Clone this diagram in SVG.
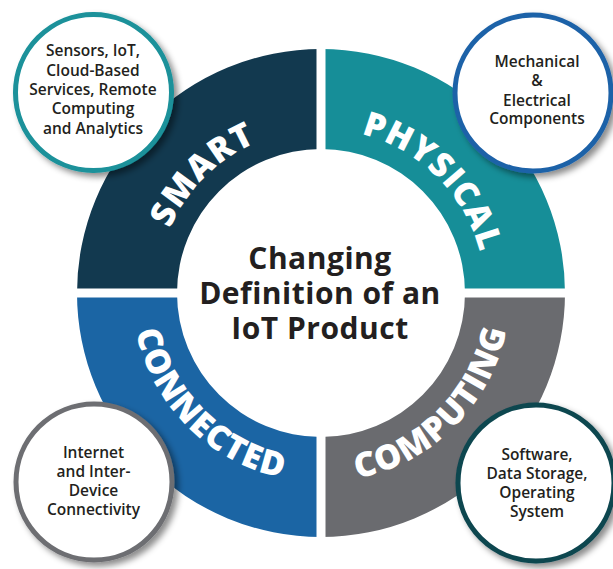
<svg xmlns="http://www.w3.org/2000/svg" width="613" height="569" viewBox="0 0 613 569">
<defs>
<style>
.ring-label{font-family:"Open Sans","Liberation Sans",sans-serif;font-weight:800;font-size:34px;fill:#ffffff;letter-spacing:1px}
.title{font-family:"Open Sans","Liberation Sans",sans-serif;font-weight:700;font-size:30px;fill:#231f20;text-anchor:middle;letter-spacing:0.5px}
.note{font-family:"Open Sans","Liberation Sans",sans-serif;font-weight:600;font-size:15.5px;fill:#231f20;text-anchor:middle}
.bubble{fill:#ffffff;stroke-width:5;filter:url(#shadow)}
</style>
<filter id="shadow" x="-30%" y="-30%" width="160%" height="160%">
<feDropShadow dx="4" dy="4" stdDeviation="3" flood-color="#000000" flood-opacity="0.45"/>
</filter>
<path id="arcTop" d="M157,293 A164,164 0 0 1 485,293"/>
<path id="arcBottom" d="M132,293 A189,189 0 0 0 510,293"/>
</defs>
<rect width="613" height="569" fill="#ffffff"/>
<g id="ring">
<g id="smart">
<path d="M77,293 A244,244 0 0 1 321,49 L321,149 A144,144 0 0 0 177,293 Z" fill="#12394f"/>
</g>
<g id="physical">
<path d="M321,49 A244,244 0 0 1 565,293 L465,293 A144,144 0 0 0 321,149 Z" fill="#168e98"/>
</g>
<g id="computing">
<path d="M565,293 A244,244 0 0 1 321,537 L321,437 A144,144 0 0 0 465,293 Z" fill="#6a6b6f"/>
</g>
<g id="connected">
<path d="M321,537 A244,244 0 0 1 77,293 L177,293 A144,144 0 0 0 321,437 Z" fill="#1b65a4"/>
</g>
<rect x="316.5" y="40" width="9" height="510" fill="#ffffff"/>
<rect x="70" y="288.5" width="502" height="9" fill="#ffffff"/>
<text class="ring-label"><textPath href="#arcTop" startOffset="25%" text-anchor="middle">SMART</textPath></text>
<text class="ring-label"><textPath href="#arcTop" startOffset="75%" text-anchor="middle">PHYSICAL</textPath></text>
<text class="ring-label"><textPath href="#arcBottom" startOffset="25%" text-anchor="middle">CONNECTED</textPath></text>
<text class="ring-label"><textPath href="#arcBottom" startOffset="75%" text-anchor="middle">COMPUTING</textPath></text>
</g>
<g id="center-title">
<text class="title" x="320" y="269">Changing</text>
<text class="title" x="320" y="304">Definition of an</text>
<text class="title" x="320" y="339">IoT Product</text>
</g>
<g id="connectors"></g>
<g id="node-smart">
<circle class="bubble" cx="93.5" cy="92.5" r="78" stroke="#1a919a"/>
<text class="note" x="93" y="56">Sensors, IoT,</text>
<text class="note" x="93" y="75.5">Cloud-Based</text>
<text class="note" x="93" y="95">Services, Remote</text>
<text class="note" x="93" y="114">Computing</text>
<text class="note" x="93" y="133.5">and Analytics</text>
</g>
<g id="node-physical">
<circle class="bubble" cx="533" cy="93" r="78" stroke="#1f62a8"/>
<text class="note" x="537" y="67">Mechanical</text>
<text class="note" x="537" y="86">&amp;</text>
<text class="note" x="537" y="105.5">Electrical</text>
<text class="note" x="537" y="124">Components</text>
</g>
<g id="node-connected">
<circle class="bubble" cx="94" cy="482" r="78" stroke="#6d6e72"/>
<text class="note" x="93.5" y="458">Internet</text>
<text class="note" x="93.5" y="477">and Inter-</text>
<text class="note" x="93.5" y="496">Device</text>
<text class="note" x="93.5" y="515">Connectivity</text>
</g>
<g id="node-computing">
<circle class="bubble" cx="536" cy="483" r="78" stroke="#0e4650"/>
<text class="note" x="537" y="460">Software,</text>
<text class="note" x="537" y="479">Data Storage,</text>
<text class="note" x="537" y="498">Operating</text>
<text class="note" x="537" y="517">System</text>
</g>
</svg>
